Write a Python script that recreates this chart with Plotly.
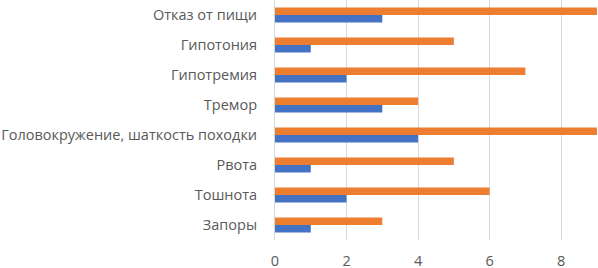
import plotly.graph_objects as go

categories = ["Запоры", "Тошнота", "Рвота", "Головокружение, шаткость походки",
              "Тремор", "Гипотремия", "Гипотония", "Отказ от пищи"]
series_blue = [1, 2, 1, 4, 3, 2, 1, 3]
series_orange = [3, 6, 5, 9, 4, 7, 5, 9]
x_ticks = [0, 2, 4, 6, 8]

fig = go.Figure()
fig.add_trace(go.Bar(y=categories, x=series_blue, orientation="h",
                     marker=dict(color="#4472C4", line=dict(width=0)), name="Ряд 1"))
fig.add_trace(go.Bar(y=categories, x=series_orange, orientation="h",
                     marker=dict(color="#ED7D31", line=dict(width=0)), name="Ряд 2"))

fig.update_layout(
    width=598, height=268,
    margin=dict(l=275, r=0, t=0, b=28),
    barmode="group", bargap=0.5, bargroupgap=0,
    showlegend=False,
    plot_bgcolor="white", paper_bgcolor="white",
    font=dict(family="Open Sans", size=14.5, color="#595959"),
)
fig.update_xaxes(range=[0, 9.03], tickvals=x_ticks, showgrid=True, gridcolor="#D9D9D9",
                 gridwidth=1, zeroline=False, showline=False, ticklabelstandoff=10,
                 automargin=False)
fig.update_yaxes(showgrid=False, showline=True, linecolor="#D9D9D9", linewidth=1,
                 ticklabelstandoff=14, zeroline=False, automargin=False)

fig.write_html("out.html", config={"displayModeBar": False},
               post_script="document.body.style.margin='0';")
